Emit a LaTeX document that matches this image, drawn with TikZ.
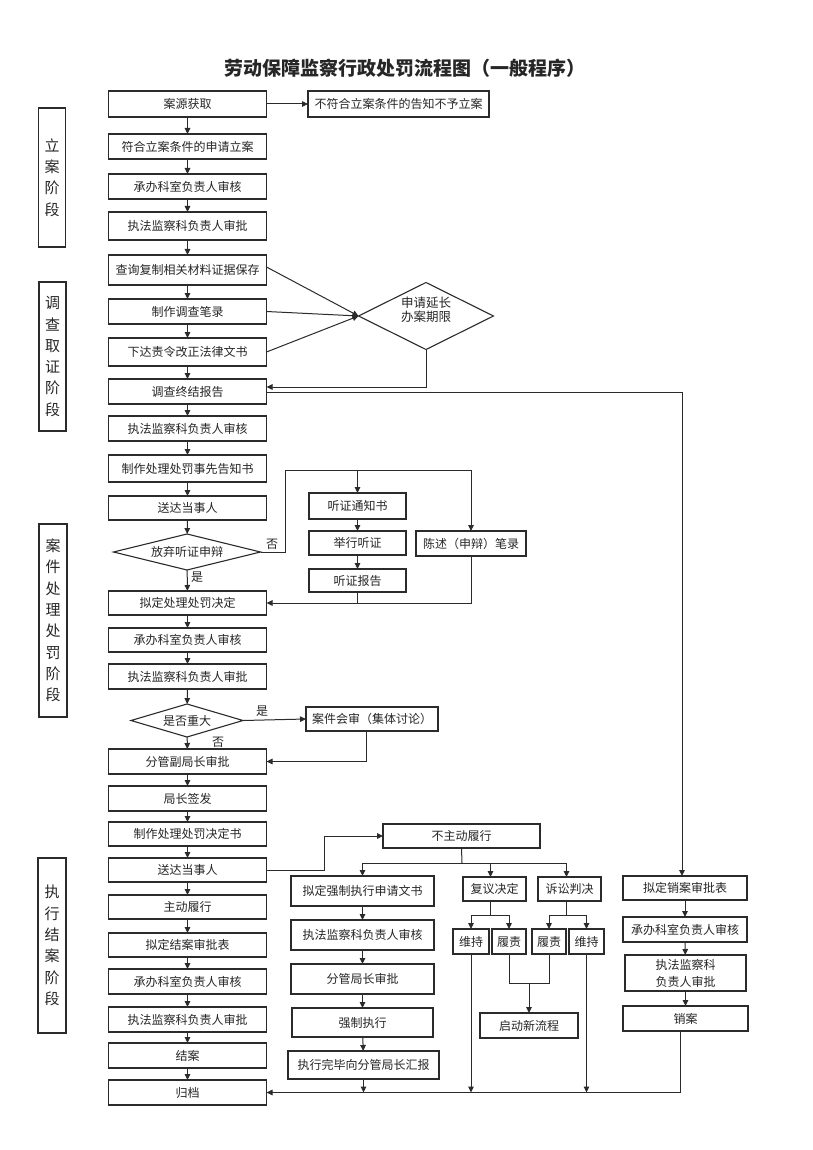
\documentclass[tikz,border=0pt]{standalone}
\usepackage{fontspec}
\setmainfont{Noto Sans CJK SC}
\usetikzlibrary{shapes.geometric,arrows.meta,calc}
\definecolor{lc}{HTML}{2B2B2B}
\definecolor{tc}{HTML}{262626}
\begin{document}
\begin{tikzpicture}[x=1pt,y=-1pt,
  box/.style={draw=lc, line width=1.1pt, inner sep=0pt, outer sep=0pt, text=tc, align=center, font=\fontsize{12}{14}\selectfont},
  mainbox/.style={box, minimum width=158pt},
  dia/.style={draw=lc, line width=1.1pt, diamond, inner sep=0pt, outer sep=0pt},
  dtext/.style={text=tc, inner sep=0pt, align=center, font=\fontsize{12}{14}\selectfont},
  stage/.style={draw=lc, line width=1.3pt, inner sep=0pt, text=tc, align=center, font=\fontsize{15}{21.3}\selectfont},
  lbl/.style={text=tc, inner sep=0pt, font=\fontsize{12}{14}\selectfont},
  arr/.style={draw=lc, line width=1pt, -{Triangle[length=6pt,width=5.5pt]}},
  ln/.style={draw=lc, line width=1pt}]
\useasboundingbox (0,0) rectangle (813,1150);
\fill[white] (0,0) rectangle (813,1150);

% title
\node[text=tc, inner sep=0pt, font=\fontsize{19}{22}\selectfont\bfseries] (title) at (405,68) {劳动保障监察行政处罚流程图（一般程序）};

% stage labels
\node[stage, minimum width=27pt, minimum height=139pt] (st1) at (52,177.5) {立\\案\\阶\\段};
\node[stage, minimum width=27pt, minimum height=149pt] (st2) at (52.5,356.5) {调\\查\\取\\证\\阶\\段};
\node[stage, minimum width=28pt, minimum height=193pt] (st3) at (53,620.5) {案\\件\\处\\理\\处\\罚\\阶\\段};
\node[stage, minimum width=28pt, minimum height=175pt] (st4) at (52,945.5) {执\\行\\结\\案\\阶\\段};

% main column
\node[mainbox, minimum height=26pt] (m1) at (187.5,104) {案源获取};
\node[mainbox, minimum height=25pt] (m2) at (187.5,146.5) {符合立案条件的申请立案};
\node[mainbox, minimum height=25pt] (m3) at (187.5,186.5) {承办科室负责人审核};
\node[mainbox, minimum height=28pt] (m4) at (187.5,226) {执法监察科负责人审批};
\node[mainbox, minimum height=30pt] (m5) at (187.5,270) {查询复制相关材料证据保存};
\node[mainbox, minimum height=25pt] (m6) at (187.5,311.5) {制作调查笔录};
\node[mainbox, minimum height=28pt] (m7) at (187.5,352) {下达责令改正法律文书};
\node[mainbox, minimum height=25pt] (m8) at (187.5,391.5) {调查终结报告};
\node[mainbox, minimum height=25pt] (m9) at (187.5,428.5) {执法监察科负责人审核};
\node[mainbox, minimum height=27pt] (m10) at (187.5,468.5) {制作处理处罚事先告知书};
\node[mainbox, minimum height=24pt] (m11) at (187.5,508) {送达当事人};
\node[dia, minimum width=147pt, minimum height=36pt] (d1) at (187,552) {};
\node[dtext] (d1t) at (d1) {放弃听证申辩};
\node[mainbox, minimum height=24pt] (m12) at (187.5,603) {拟定处理处罚决定};
\node[mainbox, minimum height=24pt] (m13) at (187.5,640) {承办科室负责人审核};
\node[mainbox, minimum height=25pt] (m14) at (187.5,676.5) {执法监察科负责人审批};
\node[dia, minimum width=112pt, minimum height=33pt] (d2) at (187,720.5) {};
\node[dtext] (d2t) at (d2) {是否重大};
\node[mainbox, minimum height=25pt] (m15) at (187.5,761.5) {分管副局长审批};
\node[mainbox, minimum height=25pt] (m16) at (187.5,798.5) {局长签发};
\node[mainbox, minimum height=24pt] (m17) at (187.5,834) {制作处理处罚决定书};
\node[mainbox, minimum height=24pt] (m18) at (187.5,870) {送达当事人};
\node[mainbox, minimum height=24pt] (m19) at (187.5,907) {主动履行};
\node[mainbox, minimum height=24pt] (m20) at (187.5,945) {拟定结案审批表};
\node[mainbox, minimum height=25pt] (m21) at (187.5,981.5) {承办科室负责人审核};
\node[mainbox, minimum height=25pt] (m22) at (187.5,1019.5) {执法监察科负责人审批};
\node[mainbox, minimum height=25pt] (m23) at (187.5,1055.5) {结案};
\node[mainbox, minimum height=25pt] (m24) at (187.5,1092.5) {归档};

\foreach \a/\b in {m1/m2,m2/m3,m3/m4,m4/m5,m5/m6,m6/m7,m7/m8,m8/m9,m9/m10,m10/m11,m11/d1,d1/m12,m12/m13,m13/m14,m14/d2,d2/m15,m15/m16,m16/m17,m17/m18,m18/m19,m19/m20,m20/m21,m21/m22,m22/m23,m23/m24}
  \draw[arr] (\a) -- (\b);

% top right
\node[box, minimum width=181pt, minimum height=26pt] (r1) at (398.5,104) {不符合立案条件的告知不予立案};
\draw[arr] (m1) -- (r1);

% extension diamond
\node[dia, minimum width=135pt, minimum height=67pt] (d3) at (426,316) {};
\node[dtext, font=\fontsize{12.5}{14}\selectfont] (d3t) at (426,310) {申请延长\\办案期限};
\draw[arr] ([yshift=3pt]m5.east) -- (d3.west);
\draw[arr] (m6.east) -- (d3.west);
\draw[arr] (m7.east) -- (d3.west);
\draw[arr] (d3.south) |- ([yshift=4.5pt]m8.east);

% hearing branch
\node[box, minimum width=97pt, minimum height=26pt] (h1) at (357.5,506) {听证通知书};
\node[box, minimum width=97pt, minimum height=24pt] (h2) at (357.5,543) {举行听证};
\node[box, minimum width=97pt, minimum height=23pt] (h3) at (357.5,580.5) {听证报告};
\node[box, minimum width=110pt, minimum height=25pt] (s1) at (471,543.5) {陈述（申辩）笔录};
\coordinate (c1) at (285,470);
\draw[arr] (d1.east) -| (c1) -| (s1.north);
\draw[arr] (h1.north |- c1) -- (h1.north);
\draw[arr] (h1) -- (h2);
\draw[arr] (h2) -- (h3);
\draw[arr] (s1.south) |- (m12.east);
\draw[ln] (h3.south) -- (h3.south |- m12.east);
\node[lbl] (no1) at (272,544) {否};
\node[lbl] (yes1) at (197,577) {是};

% major case
\node[box, minimum width=132pt, minimum height=24pt] (k1) at (372,719) {案件会审（集体讨论）};
\draw[arr] (d2.east) -- (k1.west);
\draw[arr] ([xshift=-6pt]k1.south) |- (m15.east);
\node[lbl] (yes2) at (262,711) {是};
\node[lbl] (no2) at (218,742) {否};

% non-compliance
\node[box, minimum width=157pt, minimum height=24pt] (n1) at (461.5,836) {不主动履行};
\coordinate (c2) at (324,836);
\draw[arr] (m18.east) -| (c2) -- (n1.west);
\node[box, minimum width=143pt, minimum height=30pt] (e1) at (362.5,891) {拟定强制执行申请文书};
\node[box, minimum width=143pt, minimum height=30pt] (e2) at (362.5,935) {执法监察科负责人审核};
\node[box, minimum width=143pt, minimum height=30pt] (e3) at (362.5,979) {分管局长审批};
\node[box, minimum width=141pt, minimum height=29pt] (e4) at (362.5,1022.5) {强制执行};
\node[box, minimum width=151pt, minimum height=28pt] (e5) at (363.5,1065) {执行完毕向分管局长汇报};
\node[box, minimum width=63pt, minimum height=24pt] (f1) at (494.5,889) {复议决定};
\node[box, minimum width=63pt, minimum height=24pt] (f2) at (569.5,889) {诉讼判决};
\coordinate (c3) at (462,863);
\draw[ln] (n1.south) -- (c3);
\draw[arr] (c3) -| (e1.north);
\draw[arr] (c3) -| ([xshift=-4pt]f1.north);
\draw[arr] (c3) -| ([xshift=-3pt]f2.north);
\draw[arr] (e1) -- (e2);
\draw[arr] (e2) -- (e3);
\draw[arr] (e3) -- (e4);
\draw[arr] (e4) -- (e5);

\node[box, minimum width=36pt, minimum height=25pt] (g1) at (471,941.5) {维持};
\node[box, minimum width=34pt, minimum height=25pt] (g2) at (509,941.5) {履责};
\node[box, minimum width=34pt, minimum height=25pt] (g3) at (549,941.5) {履责};
\node[box, minimum width=35pt, minimum height=25pt] (g4) at (586.5,941.5) {维持};
\coordinate (c4) at (490.5,915);
\coordinate (c5) at (566.5,915);
\draw[ln] ([xshift=-4pt]f1.south) -- (c4);
\draw[arr] (c4) -| (g1.north);
\draw[arr] (c4) -| (g2.north);
\draw[ln] ([xshift=-3pt]f2.south) -- (c5);
\draw[arr] (c5) -| (g3.north);
\draw[arr] (c5) -| (g4.north);

\node[box, minimum width=98pt, minimum height=25pt] (q1) at (529,1025.5) {启动新流程};
\coordinate (c6) at (529,983);
\draw[ln] (g2.south) |- (c6) -| (g3.south);
\draw[arr] (c6) -- (q1.north);

% closing column
\node[box, minimum width=124pt, minimum height=24pt] (x1) at (685,888) {拟定销案审批表};
\node[box, minimum width=124pt, minimum height=25pt] (x2) at (685,929.5) {承办科室负责人审核};
\node[box, minimum width=121pt, minimum height=36pt, font=\fontsize{12}{17}\selectfont] (x3) at (685.5,973) {执法监察科\\负责人审批};
\node[box, minimum width=125pt, minimum height=25pt] (x4) at (685.5,1018.5) {销案};
\draw[arr] ([yshift=-0.5pt]m8.east) -| ([xshift=-3pt]x1.north);
\draw[arr] (x1) -- (x2);
\draw[arr] (x2) -- (x3);
\draw[arr] (x3) -- (x4);

% return to archive
\draw[arr] ([xshift=-5pt]x4.south) |- (m24.east);
\draw[arr] (e5.south) -- (e5.south |- m24.east);
\draw[arr] (g1.south) -- (g1.south |- m24.east);
\draw[arr] (g4.south) -- (g4.south |- m24.east);
\end{tikzpicture}
\end{document}
